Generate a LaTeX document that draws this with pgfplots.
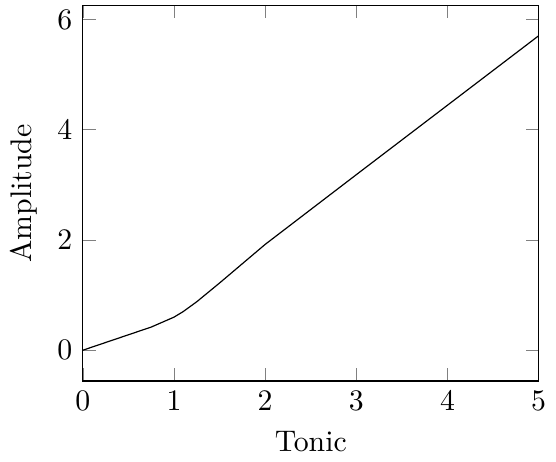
\documentclass[border=0pt]{standalone}
\usepackage{pgfplots}
\pgfplotsset{compat=1.18}
\begin{document}
\begin{tikzpicture}
\begin{axis}[
  scale only axis,
  width=153pt, height=126pt,
  xmin=0, xmax=5, ymin=-0.56, ymax=6.25,
  xtick={0,1,2,3,4,5}, ytick={0,2,4,6},
  xlabel={Tonic}, ylabel={Amplitude},
]
\addplot[black, thin] coordinates {
(0,0) (0.25,0.14) (0.5,0.28) (0.75,0.42) (1,0.6) (1.1,0.7) (1.25,0.88) (1.5,1.22) (1.75,1.57) (2,1.92) (3,3.185) (4,4.445) (5,5.705)
};
\end{axis}
\end{tikzpicture}
\end{document}
